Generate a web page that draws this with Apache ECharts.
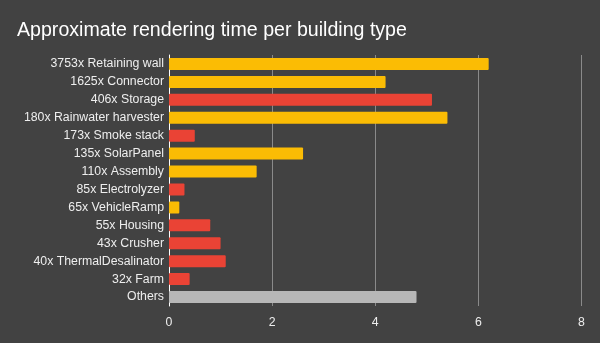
<!DOCTYPE html>
<html>
<head>
<meta charset="utf-8">
<script src="https://cdn.jsdelivr.net/npm/echarts@6/dist/echarts.min.js"></script>
<style>
html,body{margin:0;padding:0;background:#424242;}
#c{width:600px;height:343px;}
</style>
</head>
<body>
<div id="c"></div>
<script>
var categories = ["3753x Retaining wall","1625x Connector","406x Storage","180x Rainwater harvester","173x Smoke stack","135x SolarPanel","110x Assembly","85x Electrolyzer","65x VehicleRamp","55x Housing","43x Crusher","40x ThermalDesalinator","32x Farm","Others"];
var values = [6.2,4.2,5.1,5.4,0.5,2.6,1.7,0.3,0.2,0.8,1.0,1.1,0.4,4.8];
var groups = ["y","y","r","y","r","y","y","r","y","r","r","r","r","o"];
var xTicks = [0,2,4,6,8];

var colorMap = {y:"#FBBC04", r:"#EA4335", o:"#B7B7B7"};
var data = values.map(function(v,i){return {value:v, itemStyle:{color:colorMap[groups[i]]}};});

var chart = echarts.init(document.getElementById('c'), null, {renderer:'canvas'});
chart.setOption({
  backgroundColor:"#424242",
  animation:false,
  title:{
    text:"Approximate rendering time per building type",
    left:12, top:16,
    textStyle:{color:"#FFFFFF", fontFamily:"Liberation Sans", fontSize:19.6, fontWeight:"normal"}
  },
  grid:{left:169, right:18.5, top:55, bottom:37, containLabel:false},
  xAxis:{
    type:"value", min:xTicks[0], max:xTicks[xTicks.length-1], interval:2,
    axisLine:{show:false}, axisTick:{show:false},
    splitLine:{lineStyle:{color:"#8A8A8A", width:1}},
    axisLabel:{color:"#EEEEEE", fontFamily:"Liberation Sans", fontSize:12.3, margin:11}
  },
  yAxis:{
    type:"category", data:categories, inverse:true,
    axisLine:{show:true, lineStyle:{color:"#FFFFFF", width:1}},
    axisTick:{show:false},
    axisLabel:{color:"#EEEEEE", fontFamily:"Liberation Sans", fontSize:12.3, margin:5}
  },
  series:[{
    type:"bar", data:data, barWidth:12,
    itemStyle:{borderRadius:1}
  }]
});
</script>
</body>
</html>
